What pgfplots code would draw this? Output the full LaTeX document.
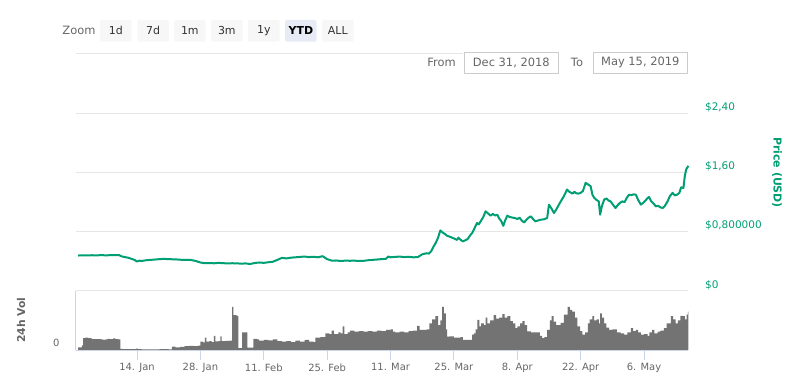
\documentclass[border=0pt]{standalone}
\usepackage{pgfplots}
\pgfplotsset{compat=1.18}
\usepackage{fontspec}
\setmainfont{DejaVu Sans}
\definecolor{pgreen}{RGB}{0,158,115}
\definecolor{gridgray}{RGB}{230,230,230}
\definecolor{volgray}{RGB}{115,115,115}
\definecolor{axisblue}{RGB}{204,214,235}
\definecolor{labgray}{RGB}{102,102,102}
\definecolor{btnbg}{RGB}{247,247,247}
\definecolor{btnsel}{RGB}{230,235,245}
\definecolor{btntext}{RGB}{51,51,51}
\definecolor{boxborder}{RGB}{204,204,204}
\begin{document}
\begin{tikzpicture}
\useasboundingbox (0,0) rectangle (800bp,382bp);
% price panel
\begin{axis}[
  at={(75.9bp,91bp)}, anchor=south west, scale only axis,
  width=612.5bp, height=237bp,
  xmin=0.5, xmax=135.8, ymin=0, ymax=3.2,
  axis line style={draw=none},
  xtick=\empty,
  ytick={0,0.8,1.6,2.4,3.2},
  yticklabels={{\$0},{\$0,800000},{\$1,60},{\$2,40},{}},
  yticklabel pos=right,
  ymajorgrids, grid style={draw=gridgray, line width=1bp},
  major tick length=0pt,
  yticklabel style={anchor=west, inner sep=0pt, xshift=16.5bp, yshift=6bp, text=pgreen, font=\fontsize{10.5}{12}\selectfont},
  clip=false,
]
\addplot[color=pgreen, line width=2bp, line join=round] coordinates {
(1,0.479) (2,0.482) (3,0.480) (4,0.483) (5,0.481) (6,0.484) (7,0.482) (8,0.483) (9,0.485) (10,0.486)
(10.5,0.470) (11,0.462) (12,0.450) (13,0.430) (13.5,0.418) (14,0.398) (14.5,0.410) (15,0.405) (16,0.415)
(17,0.420) (18,0.425) (19,0.430) (20,0.434) (21,0.430) (22,0.428) (23,0.425) (24,0.420) (25,0.422)
(26,0.418) (27,0.405) (28,0.385) (29,0.375) (30,0.378) (31,0.374) (32,0.380) (33,0.376) (34,0.372)
(35,0.375) (36,0.373) (37,0.370) (38,0.372) (39,0.365) (40,0.378) (41,0.385) (42,0.380) (43,0.388)
(44,0.395) (45,0.420) (46,0.447) (47,0.440) (48,0.450) (49,0.455) (50,0.460) (51,0.465) (52,0.458)
(53,0.462) (54,0.455) (55,0.470) (55.5,0.450) (56,0.430) (57,0.410) (58,0.412) (59,0.405) (60,0.410)
(61,0.408) (62,0.410) (63,0.405) (64,0.407) (65,0.415) (66,0.420) (67,0.425) (68,0.430) (69,0.435)
(69.5,0.465) (70,0.455) (71,0.460) (72,0.465) (73,0.458) (74,0.462) (75,0.455) (76,0.457) (77,0.495)
(78,0.510) (78.5,0.505) (79,0.540) (79.5,0.600) (80,0.650) (80.5,0.720) (81,0.818) (81.5,0.790)
(82,0.770) (82.5,0.746) (83,0.735) (84,0.710) (84.7,0.690) (85,0.720) (85.5,0.690) (86,0.670)
(87,0.700) (87.7,0.760) (88,0.780) (88.5,0.840) (89.1,0.918) (89.5,0.900) (90,0.950) (90.5,1.000)
(91,1.076) (91.5,1.050) (92.1,1.017) (92.6,1.040) (93.1,1.020) (93.6,1.030) (94,0.980) (94.5,0.940)
(94.9,0.880) (95.3,0.950) (95.8,1.017) (96.3,1.000) (97,0.990) (97.5,0.985) (98,0.972) (98.5,0.990)
(99,0.950) (99.5,0.926) (100,0.960) (100.5,0.990) (101,1.008) (101.5,0.970) (102,0.940) (102.5,0.950)
(103,0.960) (103.5,0.965) (104,0.970) (104.6,0.986) (105,1.166) (105.5,1.120) (106.1,1.053)
(106.6,1.100) (107.2,1.166) (107.7,1.220) (108.2,1.270) (108.6,1.320) (109,1.370) (109.5,1.340)
(110.2,1.315) (110.6,1.340) (111,1.320) (111.5,1.315) (112,1.325) (112.5,1.350) (113.1,1.460)
(113.6,1.440) (114.2,1.415) (114.6,1.300) (115,1.257) (115.5,1.230) (116,1.210) (116.3,1.030)
(116.7,1.150) (117.2,1.234) (117.7,1.250) (118.2,1.220) (118.6,1.210) (119.2,1.160) (119.7,1.120)
(120.2,1.160) (120.7,1.190) (121.2,1.210) (121.7,1.200) (122.2,1.260) (122.7,1.300) (123.2,1.295)
(123.7,1.305) (124.2,1.300) (124.7,1.230) (125.3,1.166) (125.8,1.190) (126.3,1.220) (126.7,1.250)
(127.1,1.270) (127.6,1.210) (128.1,1.180) (128.6,1.143) (129.1,1.150) (129.6,1.130) (130.1,1.120)
(130.6,1.150) (131.2,1.210) (131.7,1.280) (132.3,1.325) (132.8,1.290) (133.3,1.300) (133.8,1.325)
(134.2,1.400) (134.7,1.390) (135,1.550) (135.3,1.640) (135.8,1.690)
};
\end{axis}
% volume panel
\begin{axis}[
  at={(75.9bp,32bp)}, anchor=south west, scale only axis,
  width=612.5bp, height=59bp,
  xmin=0.5, xmax=135.8, ymin=0, ymax=100,
  axis x line=bottom, axis y line=left,
  axis line style={draw=axisblue, line width=1bp, -},
  xtick={14,28,42,56,70,84,98,112,126},
  xticklabels={14. Jan,28. Jan,11. Feb,25. Feb,11. Mar,25. Mar,8. Apr,22. Apr,6. May},
  tick align=outside, major tick length=10bp,
  xtick style={draw=axisblue, line width=1bp},
  ytick={0}, yticklabels={0}, ytick style={draw=none},
  xticklabel style={text=labgray, font=\fontsize{10}{12}\selectfont, yshift=0bp},
  yticklabel style={text=labgray, font=\fontsize{10}{12}\selectfont, xshift=-3bp, yshift=7bp},
]
\addplot[fill=volgray, draw=none, const plot] coordinates {
(1.0,4.5) (1.8,8) (2.1,20) (2.6,21) (3.2,20) (4,18.5) (5,18.5) (6,18) (6.5,17) (7,18) (7.5,19) (8,18.5)
(8.7,19.5) (9.2,18.5) (9.9,18) (10.3,2) (11,1.5) (12,1.3) (13,1.5) (13.8,2.5) (14.2,1.5) (15,1.2)
(17,1.2) (19,1.3) (21,1.2) (21.7,5.6) (22.5,4.5) (23.5,5.5) (24.5,6.5) (25.5,7) (26.5,6.5) (27.5,7.5)
(28,14) (28.6,13) (29,21) (29.3,14) (30,15) (30.5,13.5) (31,24) (31.3,14.5) (32,15) (32.4,23)
(32.7,15) (33.5,15.5) (34.5,16) (35,73) (35.3,59) (36,58) (36.4,3) (37.2,30) (38.4,4) (39.7,19)
(40.6,18) (41,16) (42,17) (43,16.5) (44,18) (45,15) (46,14) (47,15) (48,13.5) (49,16) (50,14) (51,17)
(52,14) (53,13.5) (53.4,21) (54.5,22) (55.6,28) (56.5,27) (57,33) (57.5,27) (58.5,30) (59,28)
(59.4,40) (59.8,27) (60.5,30) (61,33) (62,31) (63,32) (64,31) (65,32) (66,31) (67,33) (68,32) (69,34)
(70,35) (70.5,31) (71,30) (72,31) (73,30) (74,32) (75,33) (75.9,40.7) (76.4,34) (77,34) (78,35)
(78.6,45) (79.2,52) (79.9,57.6) (80.5,42) (81,50) (81.4,73) (81.8,62) (82.2,35) (82.5,22.6) (83,23)
(84,21) (85.5,22) (86,17) (86.9,17) (88,26) (88.4,28) (88.8,35) (89.2,51) (89.6,40) (90,45) (90.6,42)
(91,55) (91.4,45) (92,50) (92.8,59) (93.3,53) (94,55) (94.7,61) (95.2,55) (95.8,57.6) (96.5,49)
(97,45) (97.6,37) (98,40) (98.6,45) (99.1,49) (99.6,42) (100.2,31.6) (101,30) (102,30) (103,24)
(103.5,20) (104,22) (104.6,34) (105.2,50) (105.6,57.6) (106,48) (106.6,42) (107.6,46) (108.3,60)
(109.1,73) (109.6,68) (110.1,65) (110.7,55) (111.3,40) (111.9,32) (112.4,26) (113,30) (113.6,45)
(114,52) (114.6,57.6) (115,50) (115.5,52) (116,45) (116.3,62) (116.7,55) (117.2,45) (117.7,38)
(118.3,34) (119,35) (120,30) (120.8,28) (121.6,26) (122.3,30) (123.1,37) (123.6,32) (124.2,34)
(124.7,30) (125.3,26) (126,27) (126.8,24) (127.2,30) (127.8,34) (128.3,28) (129,31) (129.6,33)
(130.4,37) (131,45) (131.9,57.6) (132.4,52) (133,45) (133.5,50) (134,58) (134.5,57.6) (135,52)
(135.4,60) (135.7,65) (135.8,65)
} \closedcycle;
\end{axis}
% axis titles
\node[rotate=-90, text=pgreen, font=\bfseries\fontsize{11}{13}\selectfont] at (777bp,209.5bp) {Price (USD)};
\node[rotate=90, text=labgray, font=\bfseries\fontsize{10.8}{13}\selectfont] at (21bp,62bp) {24h Vol};
% range selector buttons
\node[text=labgray, font=\fontsize{11.5}{13}\selectfont] at (79bp,351.5bp) {Zoom};
\foreach \xa/\xb/\lab in {100/131.7/1d, 137.3/169/7d, 174/205.7/1m, 211/242.7/3m, 248/279.7/1y, 322/353.7/ALL}{
  \fill[btnbg, rounded corners=2bp] (\xa bp,340.3bp) rectangle (\xb bp,362bp);
  \node[text=btntext, font=\fontsize{11}{13}\selectfont] at ({(\xa+\xb)/2*1bp},351.5bp) {\lab};
}
\fill[btnsel, rounded corners=2bp] (285bp,340.3bp) rectangle (316.7bp,362bp);
\node[text=black, font=\bfseries\fontsize{11}{13}\selectfont] at (300.9bp,351.5bp) {YTD};
% date inputs
\fill[white] (463bp,307bp) rectangle (700bp,331bp);
\node[text=labgray, font=\fontsize{11.5}{13}\selectfont] at (441.5bp,320bp) {From};
\draw[boxborder, line width=0.8bp, fill=white] (464.3bp,308.7bp) rectangle (558.3bp,329.3bp);
\node[text=labgray, font=\fontsize{11.5}{13}\selectfont] at (511.3bp,319.5bp) {Dec 31, 2018};
\node[text=labgray, font=\fontsize{11.5}{13}\selectfont] at (577bp,320bp) {To};
\draw[boxborder, line width=0.8bp, fill=white] (593.3bp,308.7bp) rectangle (687.3bp,329.3bp);
\node[text=labgray, font=\fontsize{11.5}{13}\selectfont] at (640.3bp,319.5bp) {May 15, 2019};
\end{tikzpicture}
\end{document}
